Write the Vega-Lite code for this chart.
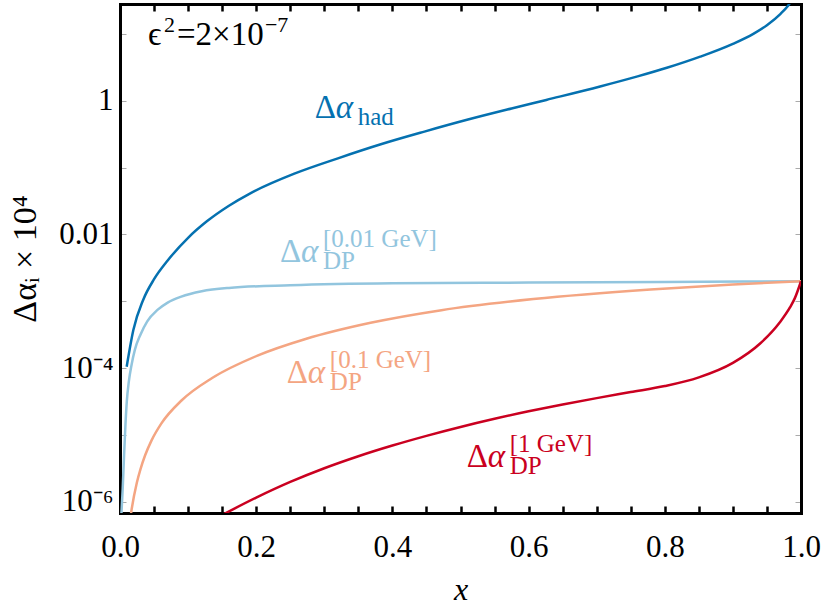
{
  "$schema": "https://vega.github.io/schema/vega-lite/v6.json",
  "width": 681,
  "height": 509,
  "autosize": "none",
  "padding": {"left": 120, "top": 4, "right": 24, "bottom": 100},
  "background": "white",
  "config": {
    "view": {"stroke": null},
    "font": "Liberation Serif",
    "axis": {"labelFont": "Liberation Serif", "titleFont": "Liberation Serif", "grid": false, "zindex": 1}
  },
  "datasets": {
    "curves": [
      {"s": "had", "x": 0.0098, "y": 1.047e-4},
      {"s": "had", "x": 0.0196, "y": 3.715e-4},
      {"s": "had", "x": 0.034, "y": 1.047e-3},
      {"s": "had", "x": 0.05, "y": 2.138e-3},
      {"s": "had", "x": 0.07, "y": 4.074e-3},
      {"s": "had", "x": 0.1, "y": 8.913e-3},
      {"s": "had", "x": 0.128, "y": 0.01585},
      {"s": "had", "x": 0.16, "y": 0.02692},
      {"s": "had", "x": 0.192, "y": 0.04169},
      {"s": "had", "x": 0.256, "y": 0.08128},
      {"s": "had", "x": 0.32, "y": 0.138},
      {"s": "had", "x": 0.383, "y": 0.2239},
      {"s": "had", "x": 0.447, "y": 0.3467},
      {"s": "had", "x": 0.511, "y": 0.5248},
      {"s": "had", "x": 0.575, "y": 0.7691},
      {"s": "had", "x": 0.626, "y": 1.033},
      {"s": "had", "x": 0.705, "y": 1.641},
      {"s": "had", "x": 0.76, "y": 2.323},
      {"s": "had", "x": 0.803, "y": 3.126},
      {"s": "had", "x": 0.852, "y": 4.592},
      {"s": "had", "x": 0.9, "y": 7.145},
      {"s": "had", "x": 0.93, "y": 10.09},
      {"s": "had", "x": 0.95, "y": 13.61},
      {"s": "had", "x": 0.97, "y": 20.14},
      {"s": "had", "x": 0.981, "y": 26.61},
      {"s": "had", "x": 0.99, "y": 36.31},
      {"s": "dp001", "x": 0.002, "y": 6.31e-7},
      {"s": "dp001", "x": 0.004, "y": 1.585e-6},
      {"s": "dp001", "x": 0.006, "y": 5.012e-6},
      {"s": "dp001", "x": 0.008, "y": 1.413e-5},
      {"s": "dp001", "x": 0.01, "y": 3.162e-5},
      {"s": "dp001", "x": 0.013, "y": 6.31e-5},
      {"s": "dp001", "x": 0.017, "y": 1.122e-4},
      {"s": "dp001", "x": 0.022, "y": 1.905e-4},
      {"s": "dp001", "x": 0.03, "y": 3.162e-4},
      {"s": "dp001", "x": 0.04, "y": 5.012e-4},
      {"s": "dp001", "x": 0.055, "y": 7.413e-4},
      {"s": "dp001", "x": 0.07, "y": 9.55e-4},
      {"s": "dp001", "x": 0.09, "y": 1.175e-3},
      {"s": "dp001", "x": 0.12, "y": 1.413e-3},
      {"s": "dp001", "x": 0.16, "y": 1.585e-3},
      {"s": "dp001", "x": 0.25, "y": 1.738e-3},
      {"s": "dp001", "x": 0.4, "y": 1.862e-3},
      {"s": "dp001", "x": 0.6, "y": 1.905e-3},
      {"s": "dp001", "x": 0.8, "y": 1.95e-3},
      {"s": "dp001", "x": 1.0, "y": 1.995e-3},
      {"s": "dp01", "x": 0.015, "y": 5.53e-7},
      {"s": "dp01", "x": 0.0171, "y": 7.69e-7},
      {"s": "dp01", "x": 0.0247, "y": 1.923e-6},
      {"s": "dp01", "x": 0.03, "y": 3.048e-6},
      {"s": "dp01", "x": 0.0369, "y": 4.943e-6},
      {"s": "dp01", "x": 0.046, "y": 8.128e-6},
      {"s": "dp01", "x": 0.0608, "y": 1.483e-5},
      {"s": "dp01", "x": 0.0907, "y": 3.296e-5},
      {"s": "dp01", "x": 0.1353, "y": 7.096e-5},
      {"s": "dp01", "x": 0.2019, "y": 1.535e-4},
      {"s": "dp01", "x": 0.2725, "y": 2.723e-4},
      {"s": "dp01", "x": 0.368, "y": 4.764e-4},
      {"s": "dp01", "x": 0.472, "y": 7.362e-4},
      {"s": "dp01", "x": 0.607, "y": 1.079e-3},
      {"s": "dp01", "x": 0.779, "y": 1.503e-3},
      {"s": "dp01", "x": 0.9, "y": 1.782e-3},
      {"s": "dp01", "x": 1.0, "y": 1.995e-3},
      {"s": "dp1", "x": 0.15, "y": 6.31e-7},
      {"s": "dp1", "x": 0.2, "y": 1.148e-6},
      {"s": "dp1", "x": 0.25, "y": 1.972e-6},
      {"s": "dp1", "x": 0.3, "y": 3.162e-6},
      {"s": "dp1", "x": 0.35, "y": 4.786e-6},
      {"s": "dp1", "x": 0.4, "y": 6.918e-6},
      {"s": "dp1", "x": 0.45, "y": 9.661e-6},
      {"s": "dp1", "x": 0.5, "y": 1.312e-5},
      {"s": "dp1", "x": 0.55, "y": 1.738e-5},
      {"s": "dp1", "x": 0.6, "y": 2.249e-5},
      {"s": "dp1", "x": 0.65, "y": 2.851e-5},
      {"s": "dp1", "x": 0.7, "y": 3.548e-5},
      {"s": "dp1", "x": 0.75, "y": 4.365e-5},
      {"s": "dp1", "x": 0.8, "y": 5.37e-5},
      {"s": "dp1", "x": 0.85, "y": 7.244e-5},
      {"s": "dp1", "x": 0.9, "y": 1.194e-4},
      {"s": "dp1", "x": 0.94, "y": 2.328e-4},
      {"s": "dp1", "x": 0.969, "y": 4.853e-4},
      {"s": "dp1", "x": 0.984, "y": 8.147e-4},
      {"s": "dp1", "x": 0.991, "y": 1.114e-3},
      {"s": "dp1", "x": 1.0, "y": 1.995e-3}
    ],
    "labels": [
      {"s": "had", "x": 0.286, "y": 0.551, "sup": "", "sub": "had"},
      {"s": "dp001", "x": 0.235, "y": 3.89e-3, "sup": "[0.01 GeV]", "sub": "DP"},
      {"s": "dp01", "x": 0.245, "y": 6.03e-5, "sup": "[0.1 GeV]", "sub": "DP"},
      {"s": "dp1", "x": 0.509, "y": 3.31e-6, "sup": "[1 GeV]", "sub": "DP"}
    ],
    "note": [
      {"x": 0.041, "y": 6.82}
    ]
  },
  "layer": [
    {
      "data": {"name": "curves"},
      "mark": {"type": "line", "strokeWidth": 2.5, "clip": true, "interpolate": "monotone"},
      "encoding": {
        "x": {
          "field": "x", "type": "quantitative",
          "scale": {"domain": [0, 1], "nice": false, "zero": false},
          "axis": {
            "orient": "bottom", "title": "x", "titleFontStyle": "italic", "titleFontWeight": "normal",
            "titleFontSize": 32, "titleColor": "black", "titleBaseline": "alphabetic", "titleY": 86,
            "values": [0, 0.05, 0.1, 0.15, 0.2, 0.25, 0.3, 0.35, 0.4, 0.45, 0.5, 0.55, 0.6, 0.65, 0.7, 0.75, 0.8, 0.85, 0.9, 0.95, 1.0],
            "labelExpr": "abs(datum.value*5 - round(datum.value*5)) < 0.001 ? format(datum.value, '.1f') : ''",
            "labelFontSize": 31, "labelColor": "black", "labelPadding": 26, "labelFlush": false,
            "tickSize": -7, "tickWidth": 2.5, "tickColor": "black",
            "domain": true, "domainWidth": 3, "domainColor": "black", "domainCap": "square"
          }
        },
        "y": {
          "field": "y", "type": "quantitative",
          "scale": {"type": "log", "domain": [6.76e-7, 28.2], "nice": false},
          "axis": {
            "orient": "left", "title": "Δαᵢ × 10⁴", "titleFontSize": 34, "titleFontWeight": "normal",
            "titleColor": "black", "titleX": -78, "titleAngle": -90, "titleBaseline": "bottom",
            "values": [10, 1, 0.1, 0.01, 0.001, 0.0001, 0.00001, 0.000001],
            "labelExpr": "datum.value == 1 ? '1' : (abs(datum.value - 0.01) < 1e-9 ? '0.01' : (abs(datum.value - 1e-4) < 1e-12 ? '10⁻⁴' : (abs(datum.value - 1e-6) < 1e-14 ? '10⁻⁶' : '')))",
            "labelFontSize": 31, "labelColor": "black", "labelPadding": 13, "labelFlush": false,
            "tickSize": -6, "tickWidth": 1, "tickColor": "#aaaaaa",
            "domain": true, "domainWidth": 3, "domainColor": "black", "domainCap": "square"
          }
        },
        "color": {
          "field": "s", "type": "nominal",
          "scale": {"domain": ["had", "dp001", "dp01", "dp1"], "range": ["#0571b0", "#92c5de", "#f4a582", "#ca0020"]},
          "legend": null
        },
        "detail": {"field": "s"}
      }
    },
    {
      "data": {"name": "note"},
      "layer": [
        {
          "mark": {"type": "text", "align": "left", "baseline": "alphabetic", "fontSize": 33, "color": "black"},
          "encoding": {"text": {"value": "ϵ"}}
        },
        {
          "mark": {"type": "text", "align": "left", "baseline": "alphabetic", "fontSize": 22, "color": "black", "dx": 16, "dy": -13},
          "encoding": {"text": {"value": "2"}}
        },
        {
          "mark": {"type": "text", "align": "left", "baseline": "alphabetic", "fontSize": 33, "color": "black", "dx": 29},
          "encoding": {"text": {"value": "=2×10"}}
        },
        {
          "mark": {"type": "text", "align": "left", "baseline": "alphabetic", "fontSize": 22, "color": "black", "dx": 117, "dy": -13},
          "encoding": {"text": {"value": "−7"}}
        }
      ],
      "encoding": {
        "x": {
          "field": "x", "type": "quantitative",
          "scale": {"domain": [0, 1], "nice": false, "zero": false},
          "axis": {
            "orient": "top", "title": null, "labels": false,
            "values": [0, 0.05, 0.1, 0.15, 0.2, 0.25, 0.3, 0.35, 0.4, 0.45, 0.5, 0.55, 0.6, 0.65, 0.7, 0.75, 0.8, 0.85, 0.9, 0.95, 1.0],
            "tickSize": -7, "tickWidth": 2.5, "tickColor": "black",
            "domain": true, "domainWidth": 3, "domainColor": "black", "domainCap": "square"
          }
        },
        "y": {
          "field": "y", "type": "quantitative",
          "scale": {"type": "log", "domain": [6.76e-7, 28.2], "nice": false},
          "axis": {
            "orient": "right", "title": null, "labels": false,
            "values": [10, 1, 0.1, 0.01, 0.001, 0.0001, 0.00001, 0.000001],
            "tickSize": -6, "tickWidth": 1, "tickColor": "#aaaaaa",
            "domain": true, "domainWidth": 3, "domainColor": "black", "domainCap": "square"
          }
        }
      }
    },
    {
      "data": {"name": "labels"},
      "layer": [
        {
          "mark": {"type": "text", "align": "left", "baseline": "alphabetic", "fontSize": 33},
          "encoding": {"text": {"value": "Δ"}}
        },
        {
          "mark": {"type": "text", "align": "left", "baseline": "alphabetic", "fontSize": 33, "fontStyle": "italic", "dx": 21},
          "encoding": {"text": {"value": "α"}}
        },
        {
          "mark": {"type": "text", "align": "left", "baseline": "alphabetic", "fontSize": 25, "dx": 43, "dy": -15},
          "encoding": {"text": {"field": "sup"}}
        },
        {
          "mark": {"type": "text", "align": "left", "baseline": "alphabetic", "fontSize": 25, "dx": 43, "dy": 7},
          "encoding": {"text": {"field": "sub"}}
        }
      ],
      "encoding": {
        "x": {"field": "x", "type": "quantitative", "scale": {"domain": [0, 1], "nice": false, "zero": false}, "axis": null},
        "y": {"field": "y", "type": "quantitative", "scale": {"type": "log", "domain": [6.76e-7, 28.2], "nice": false}, "axis": null},
        "color": {
          "field": "s", "type": "nominal",
          "scale": {"domain": ["had", "dp001", "dp01", "dp1"], "range": ["#0571b0", "#92c5de", "#f4a582", "#ca0020"]},
          "legend": null
        }
      }
    }
  ],
  "resolve": {"axis": {"x": "independent", "y": "independent"}}
}
